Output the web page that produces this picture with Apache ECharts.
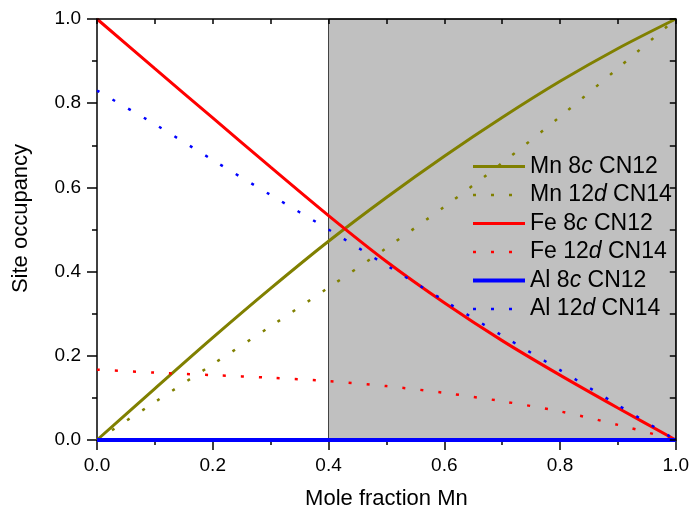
<!DOCTYPE html>
<html><head><meta charset="utf-8">
<script src="https://cdn.jsdelivr.net/npm/echarts@6/dist/echarts.min.js"></script>
<style>html,body{margin:0;padding:0;background:#fff}#c{width:692px;height:515px}</style>
</head><body><div id="c"></div>
<script>
// ---- data ----
const xValues = [0, 0.1, 0.2, 0.3, 0.4, 0.5, 0.6, 0.7, 0.8, 0.9, 1.0];
const mn8c  = [0, 0.122, 0.243, 0.36, 0.472, 0.576, 0.674, 0.766, 0.852, 0.93, 1.0];
const mn12d = [0, 0.09, 0.18, 0.27, 0.362, 0.456, 0.554, 0.658, 0.768, 0.883, 1.0];
const fe8c  = [1.0, 0.882, 0.765, 0.648, 0.533, 0.424, 0.326, 0.236, 0.154, 0.076, 0];
const fe12d = [0.167, 0.16, 0.154, 0.148, 0.14, 0.128, 0.112, 0.092, 0.068, 0.036, 0];
const al8c  = [0, 0, 0, 0, 0, 0, 0, 0, 0, 0, 0];
const al12d = [0.83, 0.75, 0.665, 0.582, 0.50, 0.415, 0.331, 0.248, 0.166, 0.083, 0];
const xTickLabels = ['0.0', '0.2', '0.4', '0.6', '0.8', '1.0'];
const yTickLabels = ['0.0', '0.2', '0.4', '0.6', '0.8', '1.0'];
const shadedRange = [0.4, 1.0];
const seriesInfo = [
  { el: 'Mn', num: '8',  letter: 'c', cn: 'CN12', data: mn8c,  color: '#808000', dotted: false },
  { el: 'Mn', num: '12', letter: 'd', cn: 'CN14', data: mn12d, color: '#808000', dotted: true },
  { el: 'Fe', num: '8',  letter: 'c', cn: 'CN12', data: fe8c,  color: '#ff0000', dotted: false },
  { el: 'Fe', num: '12', letter: 'd', cn: 'CN14', data: fe12d, color: '#ff0000', dotted: true },
  { el: 'Al', num: '8',  letter: 'c', cn: 'CN12', data: al8c,  color: '#0000ff', dotted: false },
  { el: 'Al', num: '12', letter: 'd', cn: 'CN14', data: al12d, color: '#0000ff', dotted: true }
];

const FONT = '"Liberation Sans", Arial, Helvetica, sans-serif';
const chart = echarts.init(document.getElementById('c'), null, { renderer: 'canvas' });

const nameOf = s => s.el + ' ' + s.num + s.letter + ' ' + s.cn;
const richOf = {};
seriesInfo.forEach(s => { richOf[nameOf(s)] = s.el + ' ' + s.num + '{i|' + s.letter + '} ' + s.cn; });

const series = seriesInfo.map(s => ({
  name: nameOf(s),
  type: 'line',
  data: xValues.map((x, i) => [x, s.data[i]]),
  smooth: 0.3,
  symbol: 'none',
  clip: false,
  z: 3,
  lineStyle: s.dotted
    ? { color: s.color, width: 2.5, type: [3, 15], cap: 'butt' }
    : { color: s.color, width: s.el === 'Al' ? 4 : 3 },
  itemStyle: { color: s.color }
}));

series.unshift({
  type: 'line',
  data: [],
  z: 1,
  silent: true,
  markArea: {
    silent: true,
    itemStyle: { color: '#c0c0c0', borderColor: '#404040', borderWidth: 1 },
    data: [[{ xAxis: shadedRange[0] }, { xAxis: shadedRange[1] }]]
  }
});

const axisLineStyle = { color: '#000', width: 1.5 };

chart.setOption({
  animation: false,
  backgroundColor: '#fff',
  textStyle: { fontFamily: FONT },
  grid: { left: 97, right: 14, top: 19, bottom: 72, containLabel: false },
  legend: {
    data: seriesInfo.map(nameOf),
    orient: 'vertical',
    left: 466,
    top: 150,
    padding: 5,
    itemWidth: 52,
    itemHeight: 10,
    itemGap: 5.5,
    lineStyle: { width: 'inherit' },
    itemStyle: { color: 'transparent', borderColor: 'transparent', borderWidth: 0, opacity: 0 },
    formatter: n => richOf[n],
    textStyle: {
      fontFamily: FONT, fontSize: 23, color: '#000', lineHeight: 23,
      rich: { i: { fontFamily: FONT, fontSize: 23, fontStyle: 'italic', color: '#000', lineHeight: 23 } }
    }
  },
  xAxis: [
    {
      type: 'value', min: 0, max: 1, interval: 0.2, position: 'bottom',
      axisLine: { onZero: false, lineStyle: axisLineStyle },
      axisTick: { length: 10, lineStyle: axisLineStyle },
      minorTick: { show: true, splitNumber: 2, length: 5, lineStyle: axisLineStyle },
      splitLine: { show: false }, minorSplitLine: { show: false },
      axisLabel: { fontFamily: FONT, fontSize: 19, color: '#000', margin: 16,
        formatter: v => xTickLabels[Math.round(v / 0.2)] },
      name: 'Mole fraction Mn', nameLocation: 'middle', nameGap: 48,
      nameTextStyle: { fontFamily: FONT, fontSize: 22, color: '#000' }
    },
    {
      type: 'value', min: 0, max: 1, interval: 0.1, position: 'top', z: 10,
      axisLine: { onZero: false, lineStyle: axisLineStyle },
      axisTick: { inside: true, length: 5, lineStyle: axisLineStyle },
      axisLabel: { show: false }, splitLine: { show: false }
    }
  ],
  yAxis: [
    {
      type: 'value', min: 0, max: 1, interval: 0.2, position: 'left',
      axisLine: { onZero: false, lineStyle: axisLineStyle },
      axisTick: { length: 10, lineStyle: axisLineStyle },
      minorTick: { show: true, splitNumber: 2, length: 5, lineStyle: axisLineStyle },
      splitLine: { show: false }, minorSplitLine: { show: false },
      axisLabel: { fontFamily: FONT, fontSize: 19, color: '#000', margin: 16,
        formatter: v => yTickLabels[Math.round(v / 0.2)] },
      name: 'Site occupancy', nameLocation: 'middle', nameRotate: 90, nameGap: 65,
      nameTextStyle: { fontFamily: FONT, fontSize: 22, color: '#000', padding: [0, 0, 0, 22] }
    },
    {
      type: 'value', min: 0, max: 1, interval: 0.1, position: 'right', z: 10,
      axisLine: { onZero: false, lineStyle: axisLineStyle },
      axisTick: { inside: true, length: 6, lineStyle: axisLineStyle },
      axisLabel: { show: false }, splitLine: { show: false }
    }
  ],
  series: series
});
</script>
</body></html>
